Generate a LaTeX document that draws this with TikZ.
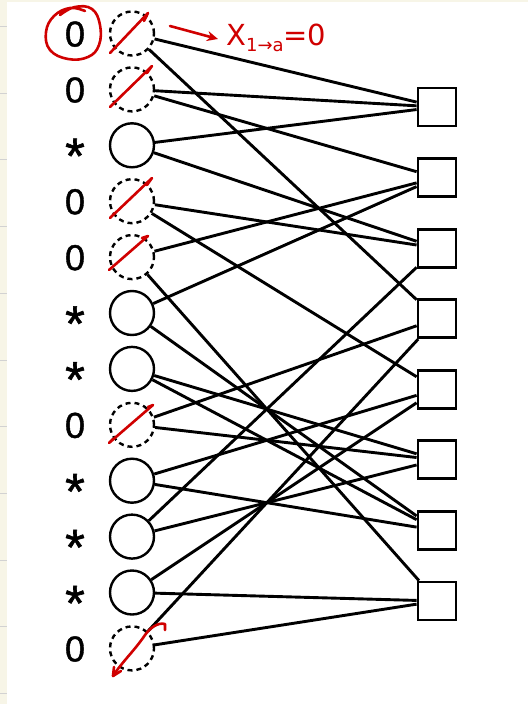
\documentclass[tikz,border=0pt]{standalone}
\usepackage{fontspec}
\setmainfont{Liberation Sans}
\newfontfamily\labfont[FakeBold=1.2]{Liberation Sans}
\newfontfamily\annfont{DejaVu Sans}
\usetikzlibrary{arrows.meta}
\definecolor{cream}{HTML}{F7F5E7}
\definecolor{rulegray}{HTML}{D2D2D2}
\definecolor{pen}{HTML}{D00000}
\begin{document}
\begin{tikzpicture}[x=1pt,y=-1pt,
  var/.style={circle,draw,line width=2.4pt,minimum size=44pt,inner sep=0pt},
  erased/.style={var,dash pattern=on 5pt off 4pt},
  chk/.style={rectangle,draw,line width=2.8pt,minimum size=38pt,inner sep=0pt},
  edge/.style={line width=2.9pt},
  lab/.style={font=\labfont\fontsize{36}{36}\selectfont,anchor=base,inner sep=0pt},
  redpen/.style={draw=pen,line width=2.6pt,line cap=round,line join=round},
  ann/.style={text=pen,anchor=base west,inner sep=0pt,font=\annfont\fontsize{29}{29}\selectfont}
]
\useasboundingbox (0,0) rectangle (528,704);
\fill[white] (0,0) rectangle (528,704);
\fill[cream] (0,0) rectangle (7,704);
\fill[cream] (0,0) rectangle (528,2);
\foreach \y in {26.5,93.2,159.9,226.6,293.3,360,426.7,493.4,560.1,626.8,693.5}
  \draw[rulegray,line width=1pt] (0,\y) -- (7,\y);

% variable nodes and labels
\foreach \i in {1,2,4,5,8,12} {
  \node[erased] (v\i) at (132,{33.5+55.9*(\i-1)}) {};
  \node[lab] (l\i) at (75,{33.5+55.9*(\i-1)+13}) {0};
}
\foreach \i in {3,6,7,9,10,11} {
  \node[var] (v\i) at (132,{33.5+55.9*(\i-1)}) {};
  \node[lab] (l\i) at (75,{33.5+55.9*(\i-1)+28}) {\scalebox{1.4}{*}};
}
% check nodes
\foreach \j in {1,...,8}
  \node[chk] (c\j) at (437,{107+70.57*(\j-1)}) {};

% edges
\foreach \v/\c in {1/1,2/1,3/1,2/2,5/2,6/2,3/3,4/3,10/3,1/4,8/4,12/4,4/5,9/5,11/5,7/6,8/6,10/6,6/7,7/7,9/7,5/8,11/8,12/8}
  \draw[edge] (v\v) -- (c\c);

% red annotations
\draw[redpen] plot[smooth,tension=0.7] coordinates {(60,15) (75,7) (92,9) (100,25) (99,45) (88,57) (68,59) (50,50) (46,32) (54,16) (70,8) (85,11)};
\draw[redpen] (110,53) -- (148,13) -- (144,21);
\draw[redpen] (110,107) -- (152,66) -- (147,73);
\draw[redpen] (115,213) -- (110,218) -- (152,178) -- (147,185);
\draw[redpen] (109,270) -- (148,236) -- (142,238);
\draw[redpen] (113,439) -- (109,443) -- (153,405) -- (148,407);
\draw[redpen] (165,630) -- (165,624) .. controls (158,622) and (150,628) .. (145,635) .. controls (135,650) and (122,662) .. (113,676);
\draw[redpen] (113,676) -- (114,667);
\draw[redpen] (113,676) -- (121,671);
\coordinate (arrS) at (170,26);
\coordinate (arrE) at (218,39);
\draw[redpen,-{Stealth[length=11pt,width=10pt]}] (arrS) -- (arrE);
\node[ann] (msg) at (226,45) {X\raisebox{-6pt}{\fontsize{18}{18}\selectfont 1→a}=0};
\end{tikzpicture}
\end{document}
